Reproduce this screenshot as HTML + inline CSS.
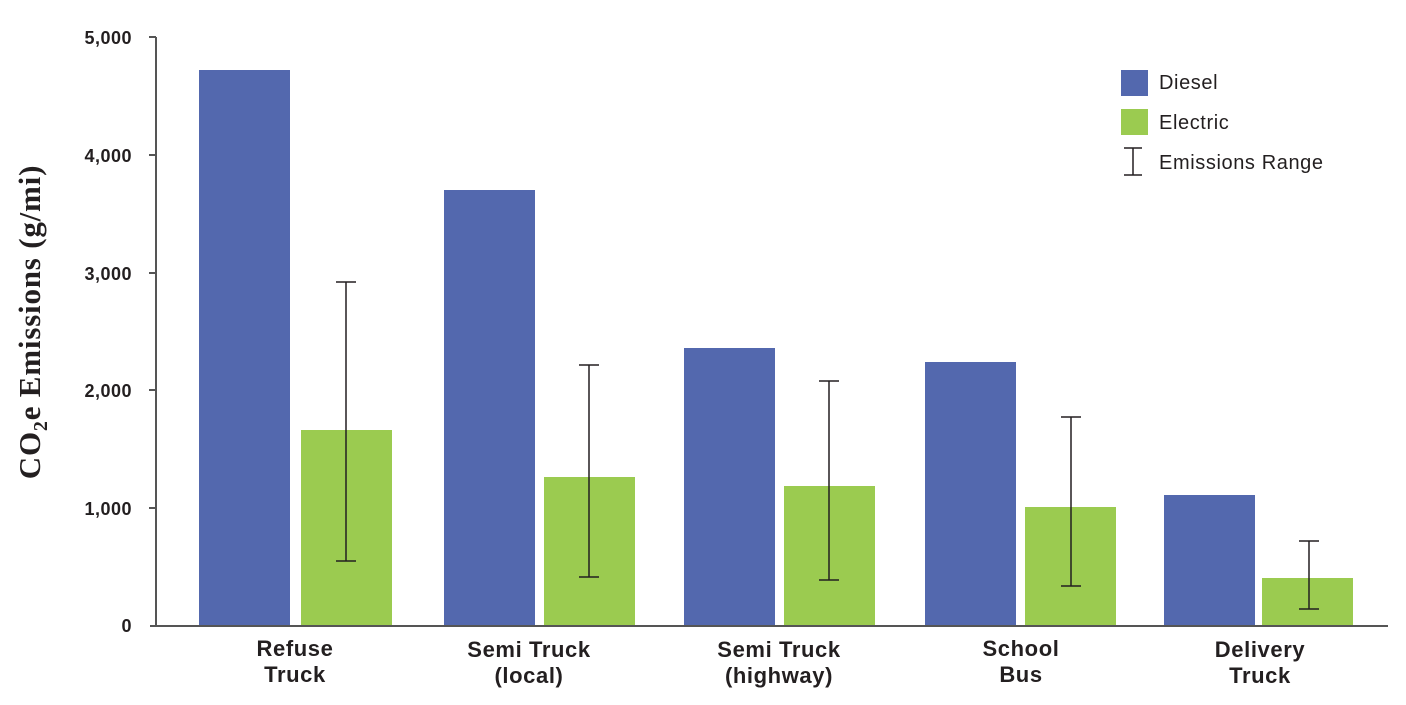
<!DOCTYPE html>
<html><head><meta charset="utf-8"><style>
body{margin:0;background:#fff;width:1406px;height:700px;overflow:hidden}
text{font-family:"Liberation Sans",sans-serif;fill:#231f20}
</style></head><body>
<svg width="1406" height="700" xmlns="http://www.w3.org/2000/svg">
<g stroke="#555" stroke-width="2" fill="none">
<line x1="156" y1="37" x2="156" y2="626"/>
<line x1="150" y1="626" x2="1388" y2="626"/>
<line x1="149" y1="37" x2="156" y2="37"/>
<line x1="149" y1="155" x2="156" y2="155"/>
<line x1="149" y1="273" x2="156" y2="273"/>
<line x1="149" y1="390" x2="156" y2="390"/>
<line x1="149" y1="508" x2="156" y2="508"/>
</g>
<g font-size="18" font-weight="bold" text-anchor="end" letter-spacing="0.5">
<text x="132" y="44">5,000</text>
<text x="132" y="162">4,000</text>
<text x="132" y="280">3,000</text>
<text x="132" y="397">2,000</text>
<text x="132" y="515">1,000</text>
<text x="132" y="632">0</text>
</g>
<text transform="translate(40,322) rotate(-90)" text-anchor="middle" font-weight="bold" font-size="31" letter-spacing="0.8" style="font-family:'Liberation Serif',serif">CO<tspan font-size="20" dy="7">2</tspan><tspan dy="-7">e Emissions (g/mi)</tspan></text>
<g fill="#5368ae">
<rect x="199" y="70" width="91" height="555"/>
<rect x="444" y="190" width="91" height="435"/>
<rect x="684" y="348" width="91" height="277"/>
<rect x="925" y="362" width="91" height="263"/>
<rect x="1164" y="495" width="91" height="130"/>
</g>
<g fill="#9bcb50">
<rect x="301" y="430" width="91" height="195"/>
<rect x="544" y="477" width="91" height="148"/>
<rect x="784" y="486" width="91" height="139"/>
<rect x="1025" y="507" width="91" height="118"/>
<rect x="1262" y="578" width="91" height="47"/>
</g>
<g stroke="#231f20" stroke-width="1.5">
<path d="M346 282V561M336 282H356M336 561H356"/>
<path d="M589 365V577M579 365H599M579 577H599"/>
<path d="M829 381V580M819 381H839M819 580H839"/>
<path d="M1071 417V586M1061 417H1081M1061 586H1081"/>
<path d="M1309 541V609M1299 541H1319M1299 609H1319"/>
<path d="M1133 148V175M1124 148H1142M1124 175H1142"/>
</g>
<rect x="1121" y="70" width="27" height="26" fill="#5368ae"/>
<rect x="1121" y="109" width="27" height="26" fill="#9bcb50"/>
<g font-size="20" letter-spacing="0.6">
<text x="1159" y="89">Diesel</text>
<text x="1159" y="129">Electric</text>
<text x="1159" y="169">Emissions Range</text>
</g>
<g font-size="22" font-weight="bold" text-anchor="middle" letter-spacing="0.6">
<text x="295" y="656">Refuse</text><text x="295" y="682">Truck</text>
<text x="529" y="657">Semi Truck</text><text x="529" y="683">(local)</text>
<text x="779" y="657">Semi Truck</text><text x="779" y="683">(highway)</text>
<text x="1021" y="656">School</text><text x="1021" y="682">Bus</text>
<text x="1260" y="657">Delivery</text><text x="1260" y="683">Truck</text>
</g>
</svg>
</body></html>
